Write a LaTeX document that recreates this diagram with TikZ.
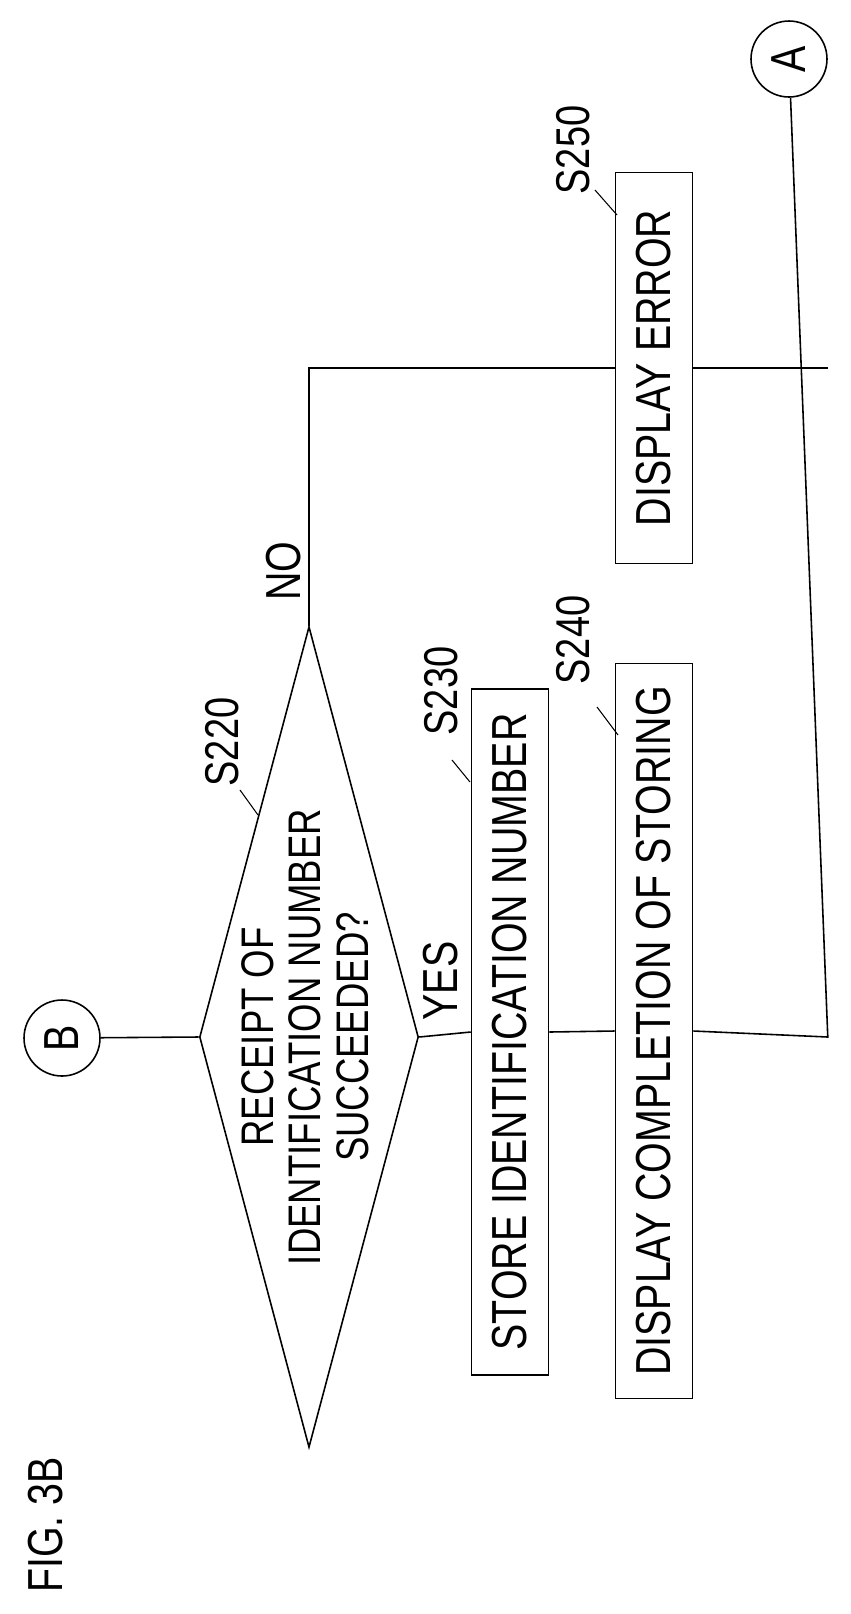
\documentclass[tikz,border=0pt]{standalone}
\usepackage{fontspec}
\setmainfont{Liberation Sans}[FakeStretch=0.8]
\usetikzlibrary{shapes.geometric}

\begin{document}
\begin{tikzpicture}[x=0.02cm,y=-0.02cm,line width=0.9pt,
    every node/.style={rotate=90,font=\fontsize{28}{34}\selectfont},
    procbox/.style={draw,rectangle,inner sep=0pt,minimum height=1.54cm},
    conn/.style={draw,circle,inner sep=0pt,minimum size=1.52cm},
    tag/.style={font=\fontsize{27}{30}\selectfont}]
\useasboundingbox (0,0) rectangle (850,1614);

% connectors and decision
\node[conn] (B) at (62,1038) {B};
\node[conn] (A) at (789,59) {A};
\node[draw,diamond,inner sep=0pt,minimum width=16.42cm,minimum height=4.38cm] (dec) at (309,1037) {};
\node[align=center,font=\fontsize{26}{27}\selectfont] (dectext) at (305,1037)
    {RECEIPT OF\\IDENTIFICATION NUMBER\\SUCCEEDED?};

% steps
\node[procbox,minimum width=13.72cm] (store) at (510,1032) {STORE IDENTIFICATION NUMBER};
\node[procbox,minimum width=14.7cm] (done) at (654,1031) {DISPLAY COMPLETION OF STORING};
\node[procbox,minimum width=7.82cm] (err) at (654,368) {DISPLAY ERROR};

% step numbers
\node[tag] (t220) at (222,742) {S220};
\node[tag] (t230) at (441,691) {S230};
\node[tag] (t240) at (573,640) {S240};
\node[tag] (t250) at (573,150) {S250};
\draw[line width=0.6pt] (240,790) -- (258,815);
\draw[line width=0.6pt] (452,760) -- (470,782);
\draw[line width=0.6pt] (597,707) -- (618,735);
\draw[line width=0.6pt] (595,190) -- (617,215);

% branch labels
\node (no) at (284,571) {NO};
\node (yes) at (441,981) {YES};

% flow lines
\coordinate (nocorner) at (err.north -| dec.east);
\coordinate (nojoin) at (err.south -| A.south);
\coordinate (yescorner) at (dec.south -| A.south);
\draw (B) -- (dec.north);
\draw (dec.east) -- (nocorner) -- (err.north);
\draw (err.south) -- (nojoin);
\draw (dec.south) -- (store.north);
\draw (store.south) -- (done.north);
\draw (done.south) -- (yescorner) -- (A);

\node (fig) at (46,1525) {FIG. 3B};
\end{tikzpicture}
\end{document}
